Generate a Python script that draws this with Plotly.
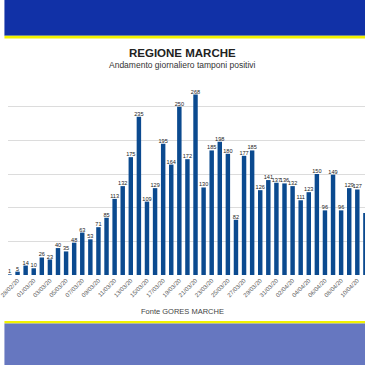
import plotly.graph_objects as go

# ---- data ----
dates = ["27/02/20", "28/02/20", "29/02/20", "01/03/20", "02/03/20", "03/03/20", "04/03/20",
         "05/03/20", "06/03/20", "07/03/20", "08/03/20", "09/03/20", "10/03/20", "11/03/20",
         "12/03/20", "13/03/20", "14/03/20", "15/03/20", "16/03/20", "17/03/20", "18/03/20",
         "19/03/20", "20/03/20", "21/03/20", "22/03/20", "23/03/20", "24/03/20", "25/03/20",
         "26/03/20", "27/03/20", "28/03/20", "29/03/20", "30/03/20", "31/03/20", "01/04/20",
         "02/04/20", "03/04/20", "04/04/20", "05/04/20", "06/04/20", "07/04/20", "08/04/20",
         "09/04/20", "10/04/20", "11/04/20"]
positivi = [1, 5, 14, 10, 26, 23, 40, 35, 48, 63, 53, 71, 85, 113, 132, 175, 235, 109, 129,
            195, 164, 250, 172, 268, 130, 185, 198, 180, 82, 177, 185, 126, 141, 137, 136,
            132, 111, 123, 150, 96, 149, 96, 129, 127, 92]
tick_labels = dates[1::2]

title = "REGIONE MARCHE"
subtitle = "Andamento giornaliero tamponi positivi"
source = "Fonte GORES MARCHE"

# ---- layout geometry (pixels) ----
W = H = 365
M_T, M_B = 73, 89.5
plot_h = H - M_T - M_B


def py(y_px):
    """pixel y (from top) -> paper y"""
    return (H - M_B - y_px) / plot_h


fig = go.Figure()
fig.add_trace(go.Bar(
    x=dates, y=positivi,
    marker=dict(color="#0b4a8f", line=dict(width=0)),
    text=[str(v) for v in positivi], textposition="outside",
    textangle=0, constraintext="none",
    textfont=dict(family="Liberation Sans, Arial", size=5.6, color="#222222"),
    cliponaxis=False,
))

shapes = [
    dict(type="rect", xref="paper", yref="paper", x0=-0.01, x1=1.01, y0=py(35.7), y1=py(-1),
         fillcolor="#1131a7", line=dict(width=0), layer="above"),
    dict(type="rect", xref="paper", yref="paper", x0=-0.01, x1=1.01, y0=py(38.3), y1=py(35.7),
         fillcolor="#f2f200", line=dict(width=0), layer="above"),
    dict(type="rect", xref="paper", yref="paper", x0=-0.01, x1=1.01, y0=py(324), y1=py(321.7),
         fillcolor="#f2f200", line=dict(width=0), layer="above"),
    dict(type="rect", xref="paper", yref="paper", x0=-0.01, x1=1.01, y0=py(366), y1=py(324),
         fillcolor="#6677c0", line=dict(width=0), layer="above"),
]

annotations = [
    dict(text="<b>" + title + "</b>", xref="paper", yref="paper", x=178 / W, y=py(53),
         xanchor="center", yanchor="middle", showarrow=False,
         font=dict(family="Liberation Sans, Arial", size=11.5, color="#222222")),
    dict(text=subtitle, xref="paper", yref="paper", x=178 / W, y=py(64.5),
         xanchor="center", yanchor="middle", showarrow=False,
         font=dict(family="Liberation Sans, Arial", size=8.5, color="#333333")),
    dict(text=source, xref="paper", yref="paper", x=178 / W, y=py(312),
         xanchor="center", yanchor="middle", showarrow=False,
         font=dict(family="Liberation Sans, Arial", size=7.5, color="#444444")),
]

fig.update_layout(
    width=W, height=H,
    margin=dict(l=0, r=0, t=M_T, b=M_B, pad=0),
    paper_bgcolor="white", plot_bgcolor="white",
    showlegend=False, bargap=0.45,
    shapes=shapes, annotations=annotations,
    xaxis=dict(type="category", range=[-0.18, 43.95], tickangle=-45,
               tickmode="array", tickvals=tick_labels, ticktext=tick_labels,
               tickfont=dict(family="Liberation Sans, Arial", size=6, color="#555555"),
               showgrid=False, showline=False, ticks=""),
    yaxis=dict(range=[0, 300], dtick=50, showgrid=True, gridcolor="#dcdcdc", gridwidth=1,
               showticklabels=False, zeroline=False, ticks=""),
)

fig.write_html("out.html",
               config={"displayModeBar": False, "staticPlot": True},
               post_script="document.body.style.margin='0';document.body.style.overflow='hidden';")
